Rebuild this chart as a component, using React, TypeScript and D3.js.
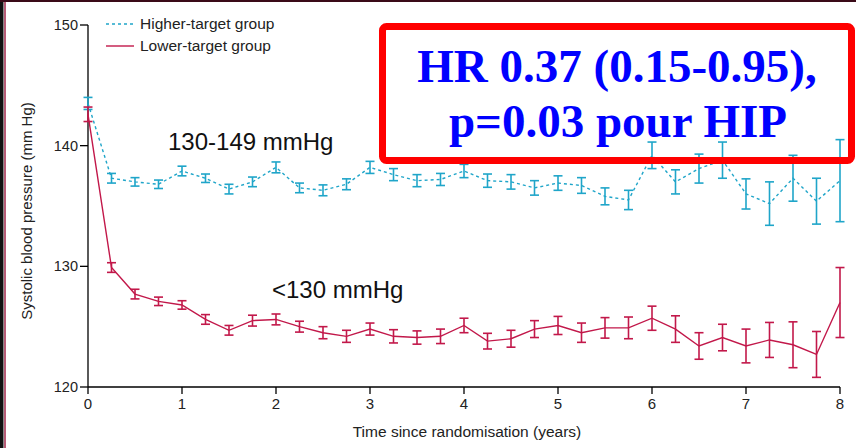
import React from "react";
import * as d3 from "d3";

const times = d3.range(0, 33).map((i) => i * 0.25);
const xTicks = [0, 1, 2, 3, 4, 5, 6, 7, 8];
const yTicks = [120, 130, 140, 150];

const higherMean = [143.5, 137.3, 137.0, 136.8, 137.9, 137.3, 136.4, 137.0, 138.2, 136.5, 136.3, 136.8, 138.2,
  137.6, 137.1, 137.2, 137.9, 137.1, 137.0, 136.5, 136.9, 136.7, 135.8, 135.5, 139.2, 137.0, 138.1, 138.8,
  136.0, 135.2, 137.3, 135.4, 137.1];
const higherErr = [0.5, 0.4, 0.35, 0.35, 0.4, 0.35, 0.4, 0.4, 0.45, 0.4, 0.45, 0.45, 0.5,
  0.5, 0.5, 0.5, 0.55, 0.55, 0.6, 0.6, 0.6, 0.65, 0.7, 0.8, 1.1, 1.0, 1.2, 1.5,
  1.25, 1.8, 1.9, 1.9, 3.4];
const lowerMean = [142.6, 129.9, 127.7, 127.1, 126.8, 125.6, 124.7, 125.5, 125.6, 125.0, 124.5, 124.2, 124.8,
  124.2, 124.1, 124.2, 125.1, 123.8, 124.0, 124.8, 125.1, 124.5, 124.9, 124.9, 125.7, 124.8, 123.4, 124.1,
  123.4, 123.9, 123.5, 122.7, 127.0];
const lowerErr = [0.6, 0.4, 0.4, 0.35, 0.35, 0.4, 0.4, 0.45, 0.45, 0.45, 0.5, 0.5, 0.5,
  0.55, 0.55, 0.6, 0.6, 0.65, 0.7, 0.7, 0.75, 0.8, 0.85, 0.9, 1.0, 1.1, 1.1, 1.1,
  1.4, 1.45, 1.9, 1.9, 2.9];

const legendLabels = ["Higher-target group", "Lower-target group"];
const xTitle = "Time since randomisation (years)";
const yTitle = "Systolic blood pressure (mm Hg)";
const annoHigh = "130-149 mmHg";
const annoLow = "<130 mmHg";
const boxLines = ["HR 0.37 (0.15-0.95),", "p=0.03 pour HIP"];

const BLUE = "#1fa5c9";
const RED = "#c2184a";
const SANS = "'Liberation Sans', Arial, sans-serif";
const SERIF = "'Liberation Serif', 'Times New Roman', serif";

export default function App() {
  const x = d3.scaleLinear().domain([0, 8]).range([88, 840]);
  const y = d3.scaleLinear().domain([120, 150]).range([387, 25]);
  const line = d3
    .line<number>()
    .x((_, i) => x(times[i]))
    .y((d) => y(d));

  const series = [
    { mean: higherMean, err: higherErr, color: BLUE, dash: "3,3" },
    { mean: lowerMean, err: lowerErr, color: RED, dash: undefined },
  ];

  return (
    <svg width={856} height={448} style={{ position: "fixed", left: 0, top: 0, background: "#fff" }}>
      {/* frame */}
      <rect x={0} y={0} width={856} height={448} fill="#fff" />
      <rect x={0} y={0} width={3.5} height={448} fill="#111" />
      <line x1={5} x2={5} y1={0} y2={448} stroke="#a0264a" strokeWidth={1.5} />
      <line x1={0} x2={856} y1={1} y2={1} stroke="#3a0a18" strokeWidth={2} />

      {/* HR box text background */}
      <rect x={382.5} y={26.5} width={469} height={134} rx={4} fill="#fff" />
      <text x={617} y={82} textAnchor="middle" fontFamily={SERIF} fontWeight="bold" fontSize={47} fill="#0000ff">
        {boxLines[0]}
      </text>
      <text x={618} y={137} textAnchor="middle" fontFamily={SERIF} fontWeight="bold" fontSize={47} fill="#0000ff">
        {boxLines[1]}
      </text>

      {/* axes */}
      <line x1={x(0)} x2={x(0)} y1={y(150)} y2={y(120)} stroke="#000" strokeWidth={1.3} />
      <line x1={x(0)} x2={x(8)} y1={y(120)} y2={y(120)} stroke="#000" strokeWidth={1.3} />
      {yTicks.map((t) => (
        <g key={"y" + t}>
          <line x1={x(0) - 8} x2={x(0)} y1={y(t)} y2={y(t)} stroke="#000" strokeWidth={1.3} />
          <text x={x(0) - 10} y={y(t)} dy="0.35em" textAnchor="end" fontFamily={SANS} fontSize={14.5} fill="#222">
            {t}
          </text>
        </g>
      ))}
      {xTicks.map((t) => (
        <g key={"x" + t}>
          <line x1={x(t)} x2={x(t)} y1={y(120)} y2={y(120) + 7} stroke="#000" strokeWidth={1.3} />
          <text x={x(t)} y={y(120) + 22} textAnchor="middle" fontFamily={SANS} fontSize={15} fill="#222">
            {t}
          </text>
        </g>
      ))}
      <text x={467} y={437} textAnchor="middle" fontFamily={SANS} fontSize={15.5} fill="#222">
        {xTitle}
      </text>
      <text
        transform={`translate(32,${211}) rotate(-90)`}
        textAnchor="middle"
        fontFamily={SANS}
        fontSize={15}
        fill="#222"
      >
        {yTitle}
      </text>

      {/* series */}
      {series.map((s, si) => (
        <g key={"s" + si}>
          <path d={line(s.mean) || ""} fill="none" stroke={s.color} strokeWidth={1.4} strokeDasharray={s.dash} />
          {s.mean.map((m, i) => {
            const cx = x(times[i]);
            const y1 = y(m + s.err[i]);
            const y2 = y(m - s.err[i]);
            return (
              <g key={i} stroke={s.color} strokeWidth={1.6}>
                <line x1={cx} x2={cx} y1={y1} y2={y2} />
                <line x1={cx - 4.5} x2={cx + 4.5} y1={y1} y2={y1} />
                <line x1={cx - 4.5} x2={cx + 4.5} y1={y2} y2={y2} />
              </g>
            );
          })}
        </g>
      ))}

      {/* legend */}
      <line x1={106} x2={134} y1={24} y2={24} stroke={BLUE} strokeWidth={1.4} strokeDasharray="3,3" />
      <text x={140} y={24} dy="0.35em" fontFamily={SANS} fontSize={15.5} fill="#222">
        {legendLabels[0]}
      </text>
      <line x1={106} x2={134} y1={46} y2={46} stroke={RED} strokeWidth={1.4} />
      <text x={140} y={46} dy="0.35em" fontFamily={SANS} fontSize={15.5} fill="#222">
        {legendLabels[1]}
      </text>

      {/* annotations */}
      <text x={168} y={150} fontFamily={SANS} fontSize={24} fill="#111">
        {annoHigh}
      </text>
      <text x={272} y={298} fontFamily={SANS} fontSize={24} fill="#111">
        {annoLow}
      </text>

      {/* HR box border */}
      <rect x={382.5} y={26.5} width={469} height={134} rx={4} fill="none" stroke="#ff0000" strokeWidth={7} />
    </svg>
  );
}
